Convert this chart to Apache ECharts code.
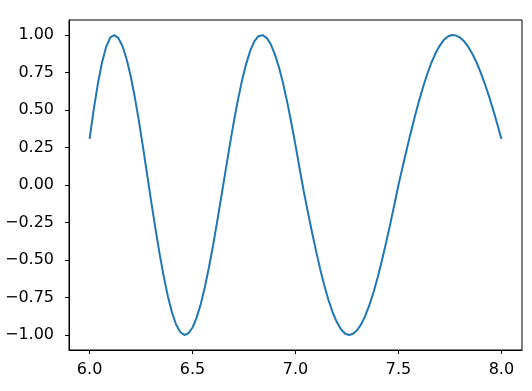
<!DOCTYPE html>
<html>
<head>
<meta charset="utf-8">
<script src="https://cdn.jsdelivr.net/npm/echarts@6/dist/echarts.min.js"></script>
<style>
html,body{margin:0;padding:0;background:#fff;}
#c{width:532px;height:391px;}
</style>
</head>
<body>
<div id="c"></div>
<script>
const xValues = [
6.00,6.02,6.04,6.06,6.08,6.10,6.12,6.14,6.16,6.18,
6.20,6.22,6.24,6.26,6.28,6.30,6.32,6.34,6.36,6.38,
6.40,6.42,6.44,6.46,6.48,6.50,6.52,6.54,6.56,6.58,
6.60,6.62,6.64,6.66,6.68,6.70,6.72,6.74,6.76,6.78,
6.80,6.82,6.84,6.86,6.88,6.90,6.92,6.94,6.96,6.98,
7.00,7.02,7.04,7.06,7.08,7.10,7.12,7.14,7.16,7.18,
7.20,7.22,7.24,7.26,7.28,7.30,7.32,7.34,7.36,7.38,
7.40,7.42,7.44,7.46,7.48,7.50,7.52,7.54,7.56,7.58,
7.60,7.62,7.64,7.66,7.68,7.70,7.72,7.74,7.76,7.78,
7.80,7.82,7.84,7.86,7.88,7.90,7.92,7.94,7.96,7.98,
8.00];
const yValues = [
0.307,0.502,0.673,0.815,0.919,0.982,1.000,0.979,0.925,0.838,
0.723,0.583,0.423,0.248,0.065,-0.117,-0.292,-0.458,-0.609,-0.741,
-0.849,-0.930,-0.980,-1.000,-0.989,-0.950,-0.884,-0.793,-0.680,-0.547,
-0.400,-0.241,-0.075,0.093,0.259,0.418,0.564,0.695,0.806,0.894,
0.957,0.992,0.999,0.981,0.938,0.871,0.783,0.676,0.551,0.413,
0.266,0.110,-0.042,-0.179,-0.313,-0.441,-0.561,-0.670,-0.766,-0.847,
-0.912,-0.960,-0.990,-1.000,-0.992,-0.967,-0.926,-0.868,-0.796,-0.710,
-0.611,-0.502,-0.385,-0.261,-0.132,0.000,0.119,0.236,0.350,0.458,
0.561,0.655,0.740,0.815,0.878,0.928,0.966,0.990,1.000,0.996,
0.982,0.956,0.919,0.872,0.815,0.748,0.673,0.591,0.501,0.407,
0.307];
const xTicks = [6.0, 6.5, 7.0, 7.5, 8.0];
const yTicks = [-1.0, -0.75, -0.5, -0.25, 0.0, 0.25, 0.5, 0.75, 1.0];

const fmt = (v, d) => (v < 0 ? '\u2212' + Math.abs(v).toFixed(d) : v.toFixed(d));
const chart = echarts.init(document.getElementById('c'), null, {renderer: 'canvas'});
const font = 'DejaVu Sans';
chart.setOption({
  animation: false,
  backgroundColor: '#ffffff',
  grid: {left: 69, right: 10, top: 20, bottom: 41, show: true, borderColor: '#000', borderWidth: 1, backgroundColor: 'transparent'},
  xAxis: {
    type: 'value', min: 5.9, max: 8.1,
    splitLine: {show: false},
    axisLine: {show: true, onZero: false, lineStyle: {color: '#000', width: 1}},
    axisTick: {show: true, length: 4, customValues: xTicks, lineStyle: {color: '#000'}},
    axisLabel: {customValues: xTicks, color: '#000', fontFamily: font, fontSize: 16, margin: 12,
      formatter: v => fmt(v, 1)}
  },
  yAxis: {
    type: 'value', min: -1.1, max: 1.1,
    splitLine: {show: false},
    axisLine: {show: true, onZero: false, lineStyle: {color: '#000', width: 1}},
    axisTick: {show: true, length: 4, customValues: yTicks, lineStyle: {color: '#000'}},
    axisLabel: {customValues: yTicks, color: '#000', fontFamily: font, fontSize: 16, margin: 15,
      formatter: v => fmt(v, 2)}
  },
  series: [{
    type: 'line',
    data: xValues.map((x, i) => [x, yValues[i]]),
    showSymbol: false,
    lineStyle: {color: '#1f77b4', width: 2},
    smooth: false
  }]
});
</script>
</body>
</html>
